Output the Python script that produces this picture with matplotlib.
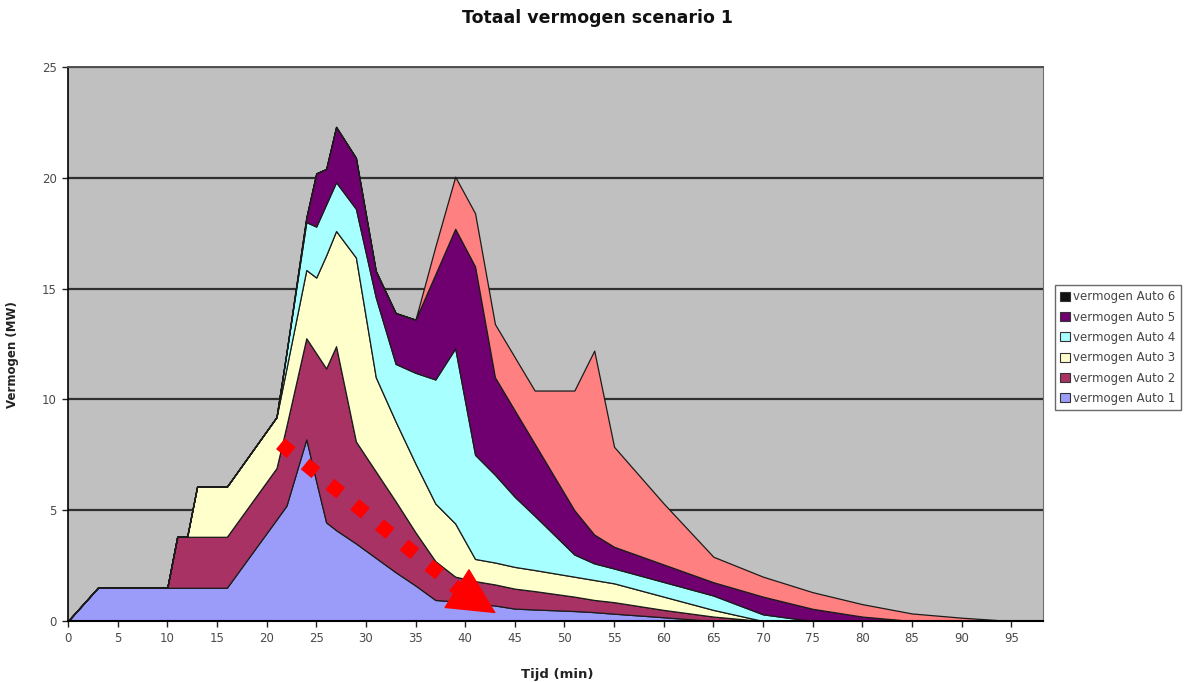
import matplotlib
matplotlib.use('Agg')
import matplotlib.pyplot as plt
from matplotlib.patches import Patch

plt.rcParams['font.family'] = ['DejaVu Sans']

# ---- data (minutes, MW per car) ----
tijd = [0, 3, 10, 11, 12, 13, 16, 21, 22, 24, 25, 26, 27, 29, 31, 33, 35, 37,
        39, 41, 43, 45, 47, 51, 53, 55, 60, 65, 70, 75, 80, 85, 90, 95, 98]
auto1 = [0, 1.5, 1.5, 1.5, 1.5, 1.5, 1.5, 4.58, 5.2, 8.2, 6.3, 4.45, 4.1, 3.5, 2.85, 2.2, 1.6, 0.95,
         0.88, 0.8, 0.7, 0.56, 0.52, 0.45, 0.4, 0.33, 0.17, 0, 0, 0, 0, 0, 0, 0, 0]
auto2 = [0, 0, 0, 2.3, 2.3, 2.3, 2.3, 2.32, 3.6, 4.56, 5.78, 6.95, 8.3, 4.6, 3.9, 3.2, 2.4, 1.75,
         1.12, 1.0, 0.95, 0.9, 0.83, 0.65, 0.55, 0.52, 0.33, 0.2, 0, 0, 0, 0, 0, 0, 0]
auto3 = [0, 0, 0, 0, 0, 2.26, 2.26, 2.3, 2.6, 3.08, 3.42, 5.1, 5.2, 8.3, 4.25, 3.6, 3.1, 2.6,
         2.4, 1.0, 0.99, 0.98, 0.95, 0.9, 0.9, 0.85, 0.6, 0.3, 0, 0, 0, 0, 0, 0, 0]
auto4 = [0, 0, 0, 0, 0, 0, 0, 0, 0.7, 2.16, 2.3, 2.3, 2.2, 2.2, 3.6, 2.6, 4.1, 5.6,
         7.9, 4.7, 3.96, 3.16, 2.45, 1.0, 0.75, 0.67, 0.66, 0.65, 0.3, 0, 0, 0, 0, 0, 0]
auto5 = [0, 0, 0, 0, 0, 0, 0, 0, 0, 0.2, 2.4, 1.6, 2.5, 2.3, 1.2, 2.3, 2.4, 4.75,
         5.4, 8.5, 4.4, 3.9, 3.25, 2.0, 1.3, 0.98, 0.79, 0.6, 0.8, 0.55, 0.2, 0, 0, 0, 0]
auto6 = [0, 0, 0, 0, 0, 0, 0, 0, 0, 0, 0, 0, 0, 0, 0, 0, 0, 1.25,
         2.35, 2.4, 2.4, 2.4, 2.4, 5.4, 8.3, 4.51, 2.75, 1.15, 0.9, 0.75, 0.56, 0.34, 0.15, 0, 0]

series_names = ['vermogen Auto 1', 'vermogen Auto 2', 'vermogen Auto 3',
                'vermogen Auto 4', 'vermogen Auto 5', 'vermogen Auto 6']
fill_colors = ['#9B9BFA', '#A83264', '#FFFFCC', '#A8FFFF', '#700070', '#FF8080']
legend_colors = ['#9B9BFA', '#A83264', '#FFFFCC', '#A8FFFF', '#700070', '#111111']
x_ticks = list(range(0, 96, 5))
y_ticks = [0, 5, 10, 15, 20, 25]

# annotation arrow (time, MW)
arrow_start = (21.4, 8.0)
arrow_base = (39.4, 1.4)
arrow_tip = (43.1, 0.35)

W, H = 1186, 682
fig = plt.figure(figsize=(W / 100, H / 100), dpi=100)
fig.patch.set_facecolor('white')
ax = fig.add_axes([68 / W, 1 - 621 / H, (1043 - 68) / W, (621 - 67) / H])
ax.set_facecolor('#C0C0C0')

ax.stackplot(tijd, auto1, auto2, auto3, auto4, auto5, auto6,
             colors=fill_colors, edgecolor='#1c1c1c', linewidth=0.9, zorder=3)

for yv in y_ticks[1:]:
    ax.axhline(yv, color='#303030', lw=1.6, zorder=1)

ax.set_xlim(0, 98.2)
ax.set_ylim(0, 25)
ax.set_xticks(x_ticks)
ax.set_yticks(y_ticks)
ax.tick_params(axis='both', labelsize=8.5, colors='#222222', length=4, width=1,
               direction='out', pad=4)
for lbl in ax.get_xticklabels() + ax.get_yticklabels():
    lbl.set_color('#4a4a4a')

ax.spines['left'].set_color('black')
ax.spines['bottom'].set_color('black')
ax.spines['left'].set_linewidth(1.2)
ax.spines['bottom'].set_linewidth(1.5)
ax.spines['top'].set_color('#505050')
ax.spines['right'].set_color('#707070')
ax.spines['top'].set_linewidth(1.4)
ax.spines['bottom'].set_zorder(6)

ax.set_xlabel('Tijd (min)', fontsize=9.5, fontweight='bold', color='#222222')
ax.xaxis.set_label_coords((557 - 68) / (1043 - 68), -(668 - 621) / (621 - 67))
ax.set_ylabel('Vermogen (MW)', fontsize=8.5, fontweight='bold', color='#222222')
ax.yaxis.set_label_coords(-(68 - 19) / (1043 - 68), (621 - 355) / (621 - 67))
fig.text(597 / W, 1 - 18 / H, 'Totaal vermogen scenario 1', ha='center', va='center',
         fontsize=12.5, fontweight='bold', color='#111111')

# red dotted arrow overlay
ax.plot([arrow_start[0], arrow_base[0]], [arrow_start[1], arrow_base[1]],
        color='#FF0000', lw=10, dashes=(1.0, 1.3), solid_capstyle='butt',
        dash_capstyle='butt', zorder=8)
ax.annotate('', xy=arrow_tip, xytext=arrow_base,
            arrowprops=dict(arrowstyle='-|>,head_length=1.6,head_width=0.8',
                            fc='#FF0000', ec='#FF0000', lw=1, mutation_scale=20,
                            shrinkA=0, shrinkB=0), zorder=9)

handles = [Patch(facecolor=legend_colors[i], edgecolor='#333333', lw=0.8, label=series_names[i])
           for i in range(len(series_names))][::-1]
leg = fig.legend(handles=handles, loc='upper left',
                 bbox_to_anchor=(1055 / W, 1 - 285 / H), fontsize=8.5,
                 frameon=True, fancybox=False, edgecolor='#444444',
                 handlelength=0.8, handleheight=0.8, handletextpad=0.3,
                 labelspacing=0.62, borderpad=0.45, borderaxespad=0)
for t in leg.get_texts():
    t.set_color('#444444')
leg.get_frame().set_linewidth(1.0)

fig.savefig('out.png', dpi=100, facecolor='white')
